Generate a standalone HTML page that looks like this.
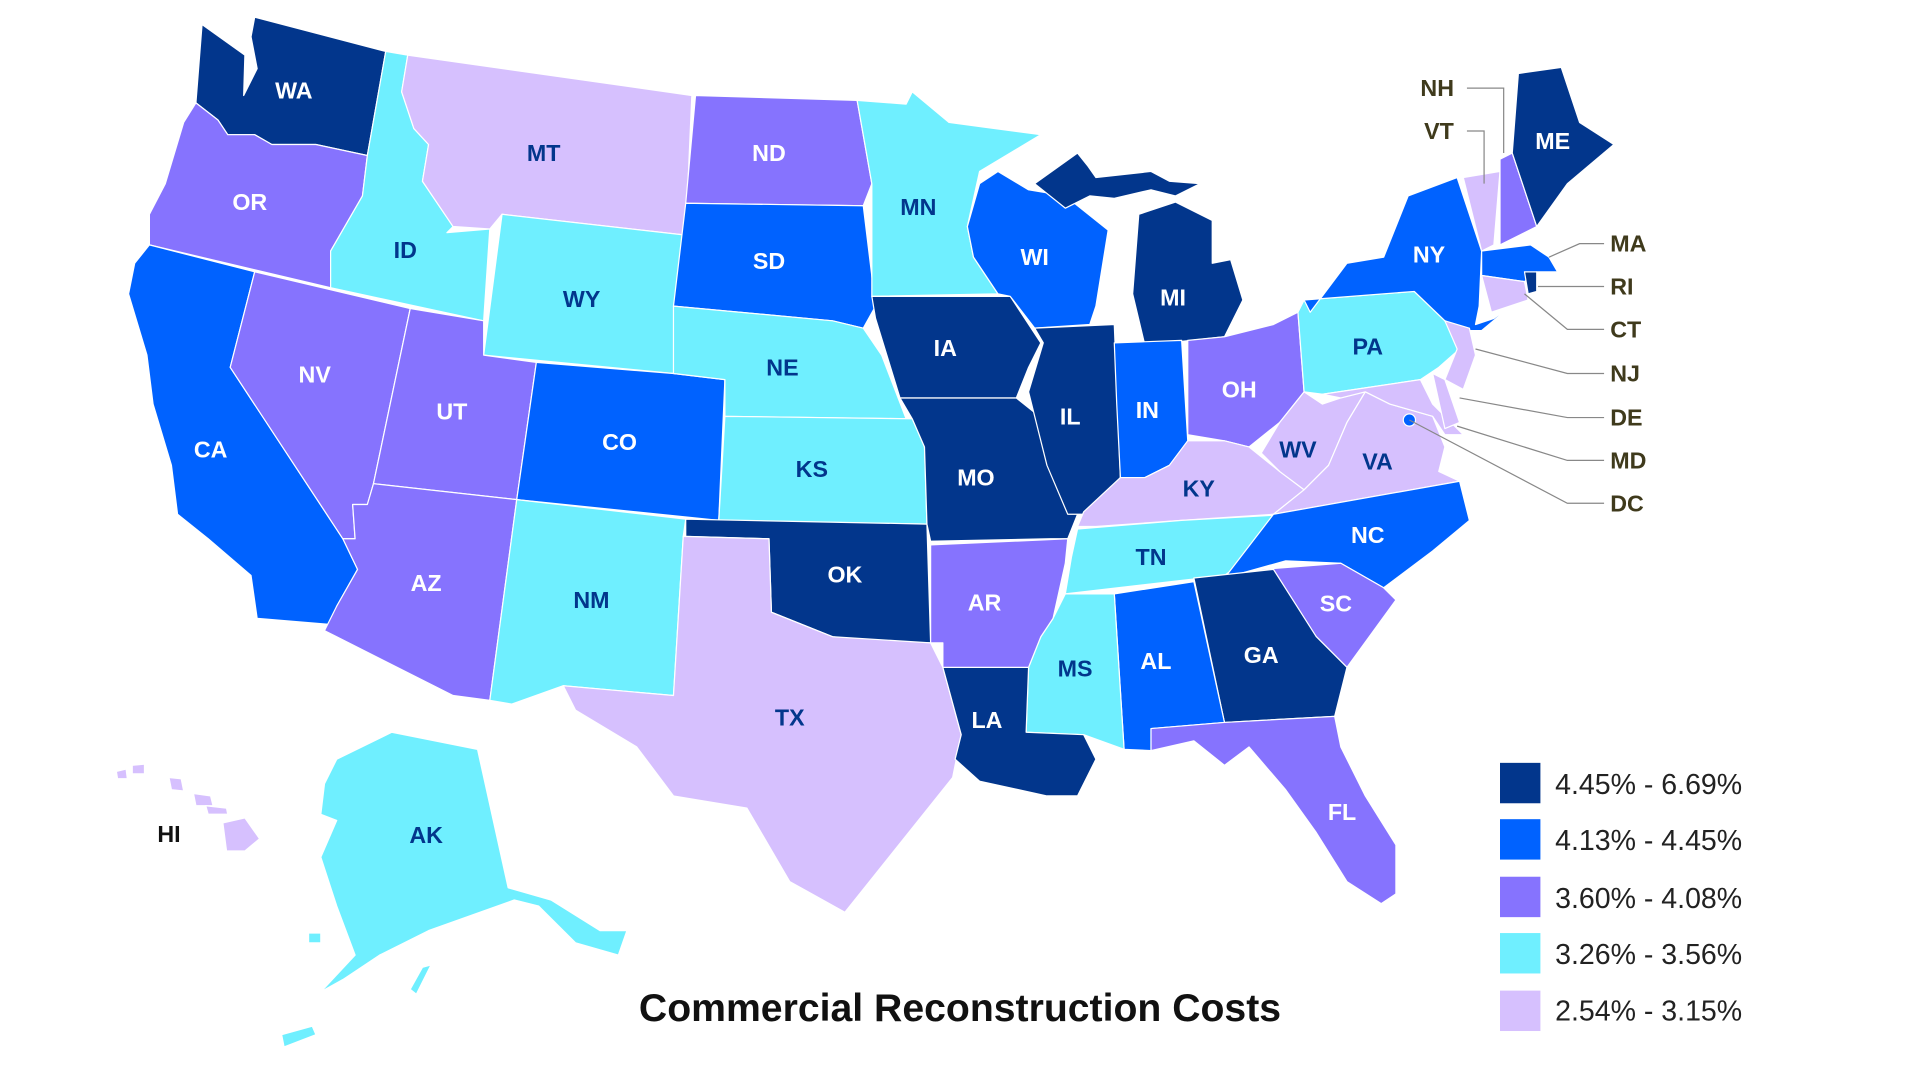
<!DOCTYPE html>
<html><head><meta charset="utf-8"><style>
html,body{margin:0;padding:0;background:#fff;width:1920px;height:1080px;overflow:hidden}
svg{display:block}
.s polygon{stroke:#fff;stroke-width:1;stroke-linejoin:round}
.d{fill:#02368C}.b{fill:#0062FF}.p{fill:#8673FE}.c{fill:#6FEFFF}.l{fill:#D6C0FE}
text{font-family:"Liberation Sans",sans-serif}
.lb{font-size:19px;font-weight:bold;text-anchor:middle;dominant-baseline:central}
.w{fill:#fff}.n{fill:#02368C}
.co{font-size:19px;font-weight:bold;fill:#3F3A1C;dominant-baseline:central}
.ln{stroke:#888;stroke-width:1;fill:none}
.lg{font-size:23.3px;fill:#222;dominant-baseline:central}
</style></head><body>
<svg width="1920" height="1080" viewBox="0 0 1568 882" preserveAspectRatio="none" xmlns="http://www.w3.org/2000/svg">
<g class="s">
<polygon class="d" points="165,20 200,45 199,78 210,56 205,30 208,14 315,42 300,127 258,118 222,118 208,110 186,110 178,98 160,84"/>
<polygon class="p" points="160,84 178,98 186,110 208,110 222,118 258,118 300,127 296,160 270,205 270,235 122,200 122,175 135,150 150,100"/>
<polygon class="b" points="122,200 208,222 188,300 280,440 292,465 275,495 270,510 210,505 205,470 170,440 145,420 140,380 125,330 120,290 105,240 110,215"/>
<polygon class="p" points="208,222 335,252 305,395 300,412 288,412 290,440 280,440 188,300"/>
<polygon class="c" points="315,42 333,45 328,75 338,105 350,118 345,148 370,185 365,190 400,187 395,262 270,235 270,205 296,160 300,127"/>
<polygon class="l" points="333,45 565,78 560,192 410,175 400,187 370,185 345,148 350,118 338,105 328,75"/>
<polygon class="c" points="410,175 560,192 550,305 395,290"/>
<polygon class="p" points="335,252 395,262 395,290 438,296 422,408 305,395"/>
<polygon class="p" points="305,395 422,408 400,572 370,568 265,515 275,495 292,465 280,440 290,440 288,412 300,412"/>
<polygon class="b" points="438,296 550,305 592,310 587,425 422,408"/>
<polygon class="c" points="422,408 560,424 558,438 550,568 460,560 418,575 400,572"/>
<polygon class="p" points="568,78 700,82 712,150 705,168 560,166"/>
<polygon class="b" points="560,166 705,168 715,250 705,268 680,262 550,250"/>
<polygon class="c" points="550,250 680,262 705,268 720,290 740,342 592,340 592,310 550,305"/>
<polygon class="c" points="592,340 745,342 755,365 757,428 587,425"/>
<polygon class="d" points="560,424 757,428 760,525 720,525 680,520 630,500 628,440 560,438"/>
<polygon class="l" points="628,440 630,500 680,520 760,525 770,545 785,600 778,635 690,745 645,720 610,660 550,650 520,610 470,580 460,560 550,568 558,438"/>
<polygon class="c" points="700,82 740,85 745,75 775,100 850,110 800,140 790,185 795,210 815,240 712,242 712,150"/>
<polygon class="d" points="712,242 825,242 850,280 840,300 830,325 735,325 715,260"/>
<polygon class="d" points="735,325 830,325 855,345 870,400 880,420 872,440 858,440 760,442 757,428 755,365 745,342"/>
<polygon class="b" points="800,150 815,140 840,155 870,160 905,188 895,250 890,265 845,268 825,242 815,240 795,210 790,185"/>
<polygon class="d" points="845,268 910,265 915,390 890,420 872,420 855,380 840,320 852,280"/>
<polygon class="d" points="930,175 960,165 990,180 990,215 1005,212 1015,245 1000,275 935,282 925,240"/>
<polygon class="d" points="845,150 880,125 888,135 895,145 940,140 955,148 980,150 960,160 940,155 910,162 890,160 870,170"/>
<polygon class="b" points="910,280 965,278 970,360 955,380 935,390 915,390 912,330"/>
<polygon class="p" points="970,278 1000,275 1040,265 1060,255 1065,320 1045,345 1020,365 1000,360 970,355"/>
<polygon class="l" points="915,390 935,390 955,380 970,360 1000,360 1020,365 1045,385 1065,400 1040,420 965,425 895,430 880,430 885,418"/>
<polygon class="c" points="880,432 965,425 1055,420 1040,440 1000,470 870,485 875,455"/>
<polygon class="l" points="1045,345 1065,320 1080,330 1095,325 1115,320 1100,345 1085,380 1065,400 1045,385 1030,370"/>
<polygon class="l" points="1065,400 1085,380 1100,345 1115,320 1135,330 1170,340 1180,365 1175,385 1192,393 1040,420"/>
<polygon class="b" points="1040,420 1192,393 1200,425 1170,450 1130,480 1095,460 1050,458 1000,472"/>
<polygon class="p" points="1030,465 1095,460 1130,480 1140,490 1100,545 1075,520 1045,480"/>
<polygon class="d" points="975,472 1040,465 1075,520 1100,545 1090,585 1000,590"/>
<polygon class="b" points="910,485 975,475 1000,590 940,595 940,613 918,612"/>
<polygon class="c" points="870,485 910,485 918,612 885,600 838,598 840,545 850,520 860,505"/>
<polygon class="d" points="770,545 840,545 838,598 885,600 895,620 880,650 855,650 800,638 780,620 785,600"/>
<polygon class="p" points="760,445 872,440 870,460 860,505 850,520 840,545 770,545 770,525 760,525"/>
<polygon class="p" points="940,595 1000,590 1090,585 1095,610 1115,650 1140,690 1140,730 1128,738 1100,720 1075,680 1050,645 1020,610 1000,625 975,605 940,613"/>
<polygon class="c" points="1060,255 1065,245 1155,238 1180,262 1192,285 1175,300 1160,310 1080,322 1065,320"/>
<polygon class="b" points="1070,255 1100,215 1130,210 1150,160 1190,145 1210,205 1208,250 1205,265 1220,260 1240,245 1210,270 1195,270 1180,262 1155,238 1065,245"/>
<polygon class="l" points="1180,262 1200,268 1205,290 1195,318 1180,310 1190,285"/>
<polygon class="l" points="1080,322 1160,310 1170,330 1185,345 1195,355 1180,355 1170,340 1135,330 1115,320 1095,325"/>
<polygon class="l" points="1170,305 1180,310 1192,345 1180,350"/>
<polygon class="l" points="1195,145 1225,140 1220,200 1210,205"/>
<polygon class="p" points="1225,130 1235,125 1255,185 1225,200"/>
<polygon class="d" points="1240,60 1275,55 1290,100 1318,118 1280,150 1255,185 1235,125"/>
<polygon class="b" points="1210,205 1250,200 1265,210 1272,222 1255,222 1245,230 1210,225"/>
<polygon class="l" points="1210,225 1245,230 1248,245 1218,255"/>
<polygon class="d" points="1245,222 1255,222 1255,238 1248,240"/>
<polygon class="c" points="275,620 320,598 390,612 415,725 450,735 490,760 512,760 505,780 470,770 440,740 420,735 350,760 310,780 280,800 262,810 290,780 275,740 262,700 275,670 262,665 265,640"/>
<polygon class="c" points="345,790 352,788 340,812 335,808"/>
<polygon class="c" points="230,845 255,838 258,845 232,855"/>
<polygon class="c" points="252,762 262,762 262,770 252,770"/>
<polygon class="l" points="95,630 103,628 104,636 96,636"/>
<polygon class="l" points="108,625 118,624 118,632 108,632"/>
<polygon class="l" points="138,635 148,636 150,646 140,645"/>
<polygon class="l" points="158,648 172,650 174,658 160,658"/>
<polygon class="l" points="168,658 185,660 186,665 170,665"/>
<polygon class="l" points="182,672 200,668 212,685 200,695 185,695"/>
</g>
<circle cx="1151" cy="343" r="5" fill="#0062FF" stroke="#fff" stroke-width="1"/>
<g class="ln">
<polyline points="1198,72 1228,72 1228,125"/>
<polyline points="1198,107 1212,107 1212,150"/>
<polyline points="1310,199 1290,199 1265,210"/>
<polyline points="1310,234 1256,234"/>
<polyline points="1310,269 1280,269 1245,240"/>
<polyline points="1310,305 1280,305 1205,285"/>
<polyline points="1310,341 1280,341 1192,325"/>
<polyline points="1310,376 1280,376 1190,348"/>
<polyline points="1310,411 1280,411 1151,343"/>
</g>
<text class="co" x="1160" y="72">NH</text>
<text class="co" x="1163" y="107">VT</text>
<text class="co" x="1315" y="199">MA</text>
<text class="co" x="1315" y="234">RI</text>
<text class="co" x="1315" y="269">CT</text>
<text class="co" x="1315" y="305">NJ</text>
<text class="co" x="1315" y="341">DE</text>
<text class="co" x="1315" y="376">MD</text>
<text class="co" x="1315" y="411">DC</text>
<g class="lb">
<text class="w" x="240" y="74">WA</text><text class="w" x="204" y="165">OR</text><text class="w" x="172" y="367">CA</text>
<text class="w" x="257" y="306">NV</text><text class="n" x="331" y="204">ID</text><text class="n" x="444" y="125">MT</text>
<text class="n" x="475" y="244">WY</text><text class="w" x="369" y="336">UT</text><text class="w" x="348" y="476">AZ</text>
<text class="w" x="506" y="361">CO</text><text class="n" x="483" y="490">NM</text><text class="w" x="628" y="125">ND</text>
<text class="w" x="628" y="213">SD</text><text class="n" x="639" y="300">NE</text><text class="n" x="663" y="383">KS</text>
<text class="w" x="690" y="469">OK</text><text class="n" x="645" y="586">TX</text><text class="n" x="750" y="169">MN</text>
<text class="w" x="772" y="284">IA</text><text class="w" x="797" y="390">MO</text><text class="w" x="804" y="492">AR</text>
<text class="w" x="806" y="588">LA</text><text class="w" x="845" y="210">WI</text><text class="w" x="874" y="340">IL</text>
<text class="w" x="958" y="243">MI</text><text class="w" x="937" y="335">IN</text><text class="w" x="1012" y="318">OH</text>
<text class="n" x="979" y="399">KY</text><text class="n" x="940" y="455">TN</text><text class="n" x="878" y="546">MS</text>
<text class="w" x="944" y="540">AL</text><text class="w" x="1030" y="535">GA</text><text class="w" x="1091" y="493">SC</text>
<text class="w" x="1096" y="663">FL</text><text class="w" x="1117" y="437">NC</text><text class="n" x="1125" y="377">VA</text>
<text class="n" x="1060" y="367">WV</text><text class="n" x="1117" y="283">PA</text><text class="w" x="1167" y="208">NY</text>
<text class="w" x="1268" y="115">ME</text><text fill="#111" x="138" y="681">HI</text><text class="n" x="348" y="682">AK</text>
</g>
<rect x="1225" y="623" width="33" height="33" class="d"/>
<rect x="1225" y="669" width="33" height="33" class="b"/>
<rect x="1225" y="716" width="33" height="33" class="p"/>
<rect x="1225" y="762" width="33" height="33" class="c"/>
<rect x="1225" y="809" width="33" height="33" class="l"/>
<text class="lg" x="1270" y="641">4.45% - 6.69%</text>
<text class="lg" x="1270" y="687">4.13% - 4.45%</text>
<text class="lg" x="1270" y="734">3.60% - 4.08%</text>
<text class="lg" x="1270" y="780">3.26% - 3.56%</text>
<text class="lg" x="1270" y="826">2.54% - 3.15%</text>
<text x="784" y="834" text-anchor="middle" style="font-size:32px;font-weight:bold;fill:#111">Commercial Reconstruction Costs</text>
</svg>
</body></html>
